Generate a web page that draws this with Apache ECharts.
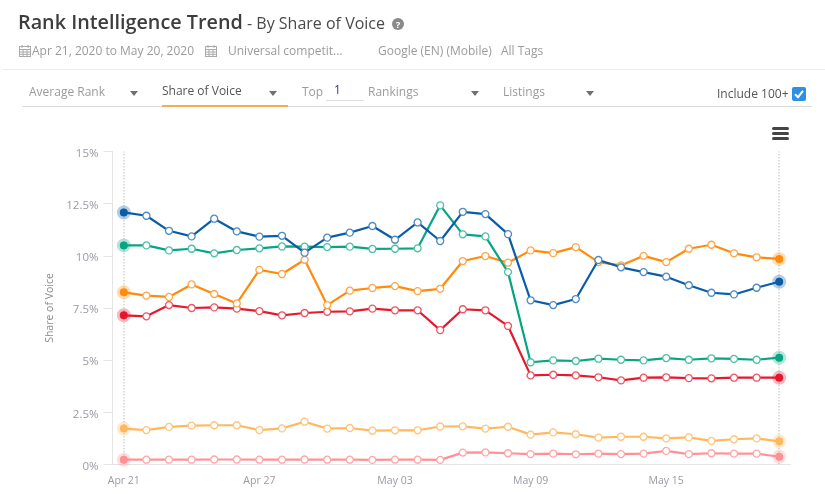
<!DOCTYPE html>
<html>
<head>
<meta charset="utf-8">
<title>Rank Intelligence Trend</title>
<script src="https://cdn.jsdelivr.net/npm/echarts@6/dist/echarts.min.js"></script>
<style>
  html, body { margin: 0; padding: 0; background: #fff; }
  body { position: relative; width: 825px; height: 494px; overflow: hidden; font-family: "Open Sans", sans-serif; }
  #canvasContainer { position: absolute; left: 0; top: 0; width: 825px; height: 494px; }
  .t { position: absolute; white-space: nowrap; line-height: 1; color: #9b9b9b; font-size: 12px; }
  .line { position: absolute; }
  .arrow { position: absolute; width: 0; height: 0; border-left: 4px solid transparent; border-right: 4px solid transparent; border-top: 5px solid #6f6f6f; }
  .bar { position: absolute; left: 772px; width: 17px; height: 3px; border-radius: 1.5px; background: #444; }
  svg.cal { position: absolute; }
</style>
</head>
<body>
<div id="canvasContainer"></div>

<div class="t" style="left:18px;top:12px;font-size:19.8px;font-weight:600;color:#3d3d3d">Rank Intelligence Trend</div>
<div class="t" style="left:247px;top:15px;font-size:16px;color:#4a4a4a">- By Share of Voice</div>
<svg class="cal" style="left:392px;top:18px" width="12" height="12"><circle cx="6" cy="6" r="6" fill="#8a8a8a"/><text x="6" y="9.5" font-size="9.5" font-weight="700" text-anchor="middle" fill="#fff" font-family="Open Sans">?</text></svg>

<svg class="cal" style="left:19px;top:45px" width="12" height="12"><rect x="0.5" y="1.5" width="11" height="10" fill="none" stroke="#aaa"/><path d="M0.5 4.5H11.5M0.5 7H11.5M0.5 9.3H11.5M4 4.5V11.5M8 4.5V11.5M3 0V3M9 0V3" stroke="#aaa"/></svg>
<div class="t" style="left:32px;top:45px">Apr 21, 2020 to May 20, 2020</div>
<svg class="cal" style="left:205px;top:45px" width="12" height="12"><rect x="0.5" y="1.5" width="11" height="10" fill="none" stroke="#aaa"/><path d="M0.5 4.5H11.5M0.5 7H11.5M0.5 9.3H11.5M4 4.5V11.5M8 4.5V11.5M3 0V3M9 0V3" stroke="#aaa"/></svg>
<div class="t" style="left:228px;top:45px">Universal competit...</div>
<div class="t" style="left:378px;top:45px">Google (EN) (Mobile)</div>
<div class="t" style="left:501px;top:45px">All Tags</div>
<div class="line" style="left:3px;top:69px;width:822px;height:1px;background:#ececec"></div>

<div class="t" style="left:29px;top:86px">Average Rank</div>
<div class="arrow" style="left:130px;top:91px"></div>
<div class="t" style="left:162px;top:85px;color:#555">Share of Voice</div>
<div class="arrow" style="left:269px;top:91px"></div>
<div class="t" style="left:302px;top:86px">Top</div>
<div class="t" style="left:334px;top:84px;color:#2c3e66">1</div>
<div class="line" style="left:326px;top:100px;width:38px;height:1px;background:#ddd"></div>
<div class="t" style="left:368px;top:86px">Rankings</div>
<div class="arrow" style="left:471px;top:91px"></div>
<div class="t" style="left:503px;top:86px">Listings</div>
<div class="arrow" style="left:586px;top:91px"></div>
<div class="t" style="left:717px;top:88px;color:#555">Include 100+</div>
<svg class="cal" style="left:792px;top:87px" width="14" height="14"><rect width="14" height="14" rx="2" fill="#2f8fe6"/><path d="M3 7.2L6 10.2L11 3.8" fill="none" stroke="#fff" stroke-width="2"/></svg>
<div class="line" style="left:22px;top:106px;width:790px;height:1px;background:#dcdcdc"></div>
<div class="line" style="left:162px;top:105px;width:126px;height:2px;background:#f5ad55"></div>

<div class="bar" style="top:127px"></div>
<div class="bar" style="top:132px"></div>
<div class="bar" style="top:137px"></div>

<script>
const categories = ["Apr 21", "Apr 22", "Apr 23", "Apr 24", "Apr 25", "Apr 26", "Apr 27", "Apr 28", "Apr 29", "Apr 30",
  "May 01", "May 02", "May 03", "May 04", "May 05", "May 06", "May 07", "May 08", "May 09", "May 10",
  "May 11", "May 12", "May 13", "May 14", "May 15", "May 16", "May 17", "May 18", "May 19", "May 20"];

const blueValues = [12.08, 11.92, 11.2, 10.93, 11.78, 11.17, 10.92, 10.96, 10.15, 10.87,
  11.11, 11.43, 10.77, 11.6, 10.71, 12.11, 12.0, 11.04, 7.87, 7.64,
  7.93, 9.8, 9.45, 9.22, 9.0, 8.59, 8.23, 8.15, 8.47, 8.76];
const greenValues = [10.5, 10.5, 10.26, 10.34, 10.12, 10.28, 10.36, 10.45, 10.44, 10.42,
  10.44, 10.33, 10.34, 10.36, 12.42, 11.03, 10.93, 9.22, 4.9, 4.99,
  4.96, 5.07, 5.02, 4.99, 5.1, 5.02, 5.09, 5.06, 5.02, 5.12];
const orangeValues = [8.25, 8.09, 8.03, 8.63, 8.17, 7.72, 9.33, 9.13, 9.81, 7.64,
  8.33, 8.46, 8.55, 8.31, 8.42, 9.75, 9.99, 9.67, 10.26, 10.13,
  10.42, 9.7, 9.54, 10.0, 9.7, 10.34, 10.53, 10.12, 9.93, 9.85];
const redValues = [7.15, 7.1, 7.64, 7.5, 7.53, 7.47, 7.35, 7.15, 7.26, 7.32,
  7.34, 7.47, 7.39, 7.39, 6.44, 7.44, 7.39, 6.64, 4.27, 4.3,
  4.27, 4.18, 4.03, 4.16, 4.18, 4.14, 4.13, 4.16, 4.16, 4.16];
const lightOrangeValues = [1.72, 1.65, 1.8, 1.86, 1.88, 1.88, 1.65, 1.73, 2.05, 1.72,
  1.75, 1.62, 1.64, 1.64, 1.82, 1.83, 1.72, 1.81, 1.43, 1.54,
  1.45, 1.29, 1.33, 1.33, 1.25, 1.3, 1.13, 1.21, 1.25, 1.11];
const pinkValues = [0.23, 0.23, 0.23, 0.23, 0.24, 0.24, 0.23, 0.23, 0.24, 0.23,
  0.23, 0.22, 0.23, 0.23, 0.22, 0.57, 0.58, 0.54, 0.5, 0.52,
  0.49, 0.52, 0.5, 0.52, 0.65, 0.5, 0.54, 0.52, 0.52, 0.37];

const seriesList = [
  { name: "Blue", color: "#0b5ca6", edge: "#4f8ac2", halo: "rgba(11,92,166,0.3)", values: blueValues },
  { name: "Green", color: "#07a583", edge: "#4cc0a6", halo: "rgba(7,165,131,0.3)", values: greenValues },
  { name: "Orange", color: "#ff8a0c", edge: "#ffa64a", halo: "rgba(255,138,12,0.3)", values: orangeValues },
  { name: "Red", color: "#e5182c", edge: "#ee5563", halo: "rgba(229,24,44,0.3)", values: redValues },
  { name: "Light orange", color: "#ffb85f", edge: "#ffc47d", halo: "rgba(255,184,95,0.3)", values: lightOrangeValues },
  { name: "Pink", color: "#ff9196", edge: "#ffa6aa", halo: "rgba(255,145,150,0.3)", values: pinkValues },
];

// 首尾两个点是实心带光晕的
function toPoints(item) {
  const last = item.values.length - 1;
  return item.values.map((value, i) => {
    if (i === 0 || i === last) {
      return {
        value,
        symbolSize: 8,
        itemStyle: { color: item.color, borderColor: item.halo, borderWidth: 6 },
      };
    }
    return value;
  });
}

const chart = echarts.init(document.querySelector("#canvasContainer"));

const series = seriesList.map((item, index) => ({
  name: item.name,
  type: "line",
  data: toPoints(item),
  symbol: "circle",
  symbolSize: 7,
  showAllSymbol: true,
  z: 10 - index,
  lineStyle: { color: item.color, width: 2.2 },
  itemStyle: { color: "#fff", borderColor: item.edge, borderWidth: 1.3, opacity: 1 },
}));

series[0].markLine = {
  silent: true,
  symbol: "none",
  label: { show: false },
  lineStyle: { color: "#d4d4d4", type: "dotted", width: 1.5 },
  data: [{ xAxis: categories[0] }, { xAxis: categories[categories.length - 1] }],
};

chart.setOption({
  animation: false,
  grid: { left: 112.5, right: 34.5, top: 151.5, bottom: 29.5 },
  xAxis: {
    type: "category",
    data: categories,
    boundaryGap: true,
    axisLine: { lineStyle: { color: "#e4e4e4" } },
    axisTick: { alignWithLabel: true, length: 5, interval: (i) => i > 0 && i % 6 === 0, lineStyle: { color: "#e4e4e4" } },
    axisLabel: { interval: 5, color: "#9a9aa6", fontSize: 10.5, margin: 11, fontFamily: "Open Sans" },
  },
  yAxis: {
    type: "value",
    min: 0,
    max: 15,
    interval: 2.5,
    name: "Share of Voice",
    nameLocation: "middle",
    nameGap: 54,
    nameTextStyle: { color: "#8c8c8c", fontSize: 10.5, fontFamily: "Open Sans" },
    axisLine: { show: true, lineStyle: { color: "#e4e4e4" } },
    axisTick: { show: true, length: 9, lineStyle: { color: "#e4e4e4" } },
    axisLabel: {
      margin: 14,
      formatter: (value) => `{v|${value}%}`,
      rich: { v: { color: "#9a9aa6", fontSize: 11.5, fontFamily: "Open Sans", padding: [4, 0, 0, 0] } },
    },
    splitLine: { show: false },
  },
  series,
});
</script>
</body>
</html>
